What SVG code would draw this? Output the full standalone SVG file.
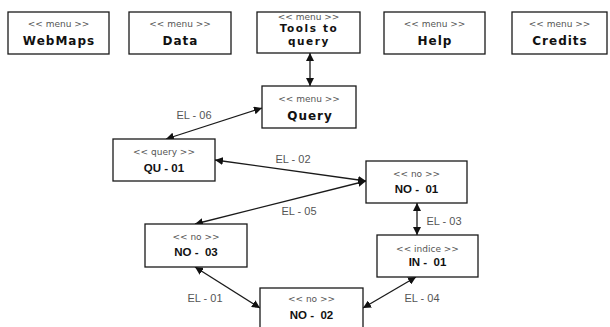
<svg xmlns="http://www.w3.org/2000/svg" width="610" height="327" viewBox="0 0 610 327">
<style>
.box{fill:#fff;stroke:#1a1a1a;stroke-width:1.3}
.st{font-family:"DejaVu Sans",Verdana,sans-serif;font-size:9px;fill:#555;text-anchor:middle}
.mt{font-family:"DejaVu Sans",Verdana,sans-serif;font-size:12px;font-weight:bold;letter-spacing:1px;fill:#111;text-anchor:middle}
.mt2{font-family:"DejaVu Sans",Verdana,sans-serif;font-size:10.5px;font-weight:bold;letter-spacing:1.6px;fill:#111;text-anchor:middle}
.nt{font-family:"Liberation Sans",Arial,sans-serif;font-size:11.5px;font-weight:bold;fill:#111;text-anchor:middle;white-space:pre}
.el{font-family:"Liberation Sans",Arial,sans-serif;font-size:11px;fill:#555;text-anchor:middle}
.ln{stroke:#1a1a1a;stroke-width:1.3;fill:none;marker-start:url(#ah);marker-end:url(#ah)}
</style>
<defs>
<marker id="ah" viewBox="0 0 10 10" refX="10" refY="5" markerWidth="8" markerHeight="8" markerUnits="userSpaceOnUse" orient="auto-start-reverse">
<path d="M0,0 L10,5 L0,10 z" fill="#111"/>
</marker>
</defs>
<rect width="610" height="327" fill="#fff"/>
<g id="connectors">
<line class="ln" x1="310" y1="53" x2="310" y2="86"/>
<line class="ln" x1="262" y1="108" x2="166" y2="139"/>
<line class="ln" x1="215" y1="160" x2="366" y2="181"/>
<line class="ln" x1="366" y1="181" x2="195" y2="224"/>
<line class="ln" x1="417" y1="203" x2="417" y2="235"/>
<line class="ln" x1="416" y1="277" x2="363" y2="308"/>
<line class="ln" x1="195" y1="267" x2="260" y2="308"/>
<text class="el" x="194" y="119">EL - 06</text>
<text class="el" x="293" y="163">EL - 02</text>
<text class="el" x="299" y="215">EL - 05</text>
<text class="el" x="444" y="225">EL - 03</text>
<text class="el" x="422" y="302">EL - 04</text>
<text class="el" x="205" y="302">EL - 01</text>
</g>
<g id="webmaps">
<rect class="box" x="8" y="12" width="101" height="42"/>
<text class="st" x="58.5" y="27">&lt;&lt; menu &gt;&gt;</text>
<text class="mt" x="59" y="45">WebMaps</text>
</g>
<g id="data">
<rect class="box" x="129" y="12" width="102" height="42"/>
<text class="st" x="180" y="27">&lt;&lt; menu &gt;&gt;</text>
<text class="mt" x="180.5" y="45">Data</text>
</g>
<g id="tools">
<rect class="box" x="257" y="12" width="103" height="41"/>
<text class="st" x="308.5" y="19.5">&lt;&lt; menu &gt;&gt;</text>
<text class="mt2" x="309" y="32">Tools to</text>
<text class="mt2" x="309" y="45">query</text>
</g>
<g id="help">
<rect class="box" x="384" y="12" width="101" height="42"/>
<text class="st" x="434.5" y="27">&lt;&lt; menu &gt;&gt;</text>
<text class="mt" x="435" y="45">Help</text>
</g>
<g id="credits">
<rect class="box" x="512" y="12" width="95" height="42"/>
<text class="st" x="559.5" y="27">&lt;&lt; menu &gt;&gt;</text>
<text class="mt" x="560" y="45">Credits</text>
</g>
<g id="query">
<rect class="box" x="262" y="86" width="94" height="42"/>
<text class="st" x="309" y="102">&lt;&lt; menu &gt;&gt;</text>
<text class="mt" x="310" y="120">Query</text>
</g>
<g id="qu01">
<rect class="box" x="113" y="139" width="102" height="42"/>
<text class="st" x="164" y="155">&lt;&lt; query &gt;&gt;</text>
<text class="nt" x="164" y="172">QU - 01</text>
</g>
<g id="no01">
<rect class="box" x="366" y="161" width="101" height="42"/>
<text class="st" x="416.5" y="177">&lt;&lt; no &gt;&gt;</text>
<text class="nt" x="416.5" y="193">NO -  01</text>
</g>
<g id="in01">
<rect class="box" x="377" y="235" width="101" height="42"/>
<text class="st" x="427.5" y="252">&lt;&lt; indice &gt;&gt;</text>
<text class="nt" x="427.5" y="266">IN -  01</text>
</g>
<g id="no03">
<rect class="box" x="145" y="224" width="102" height="43"/>
<text class="st" x="196" y="240">&lt;&lt; no &gt;&gt;</text>
<text class="nt" x="196" y="256">NO -  03</text>
</g>
<g id="no02">
<rect class="box" x="260" y="288" width="103" height="42"/>
<text class="st" x="311.5" y="302">&lt;&lt; no &gt;&gt;</text>
<text class="nt" x="311.5" y="319">NO -  02</text>
</g>
</svg>
